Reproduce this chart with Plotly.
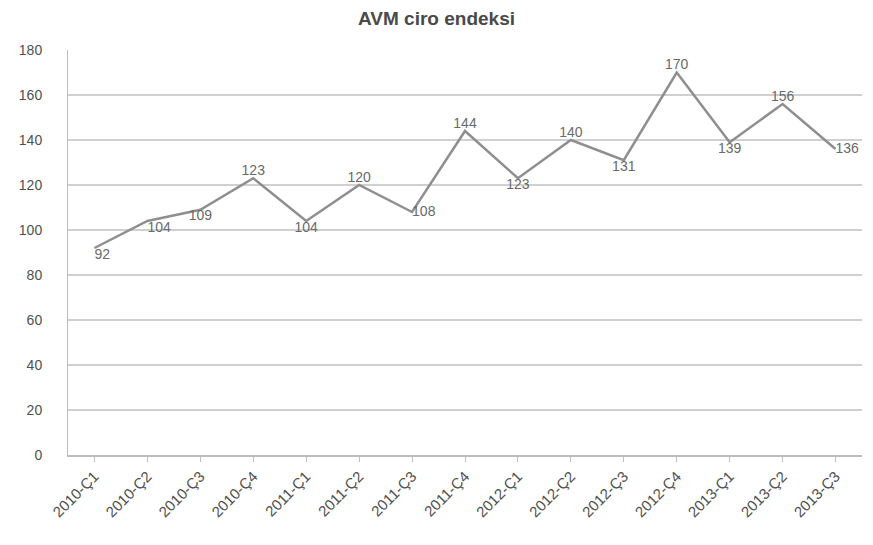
import plotly.graph_objects as go

categories = ["2010-Ç1", "2010-Ç2", "2010-Ç3", "2010-Ç4", "2011-Ç1", "2011-Ç2", "2011-Ç3", "2011-Ç4",
              "2012-Ç1", "2012-Ç2", "2012-Ç3", "2012-Ç4", "2013-Ç1", "2013-Ç2", "2013-Ç3"]
values = [92, 104, 109, 123, 104, 120, 108, 144, 123, 140, 131, 170, 139, 156, 136]
label_pos = ["bottom right", "bottom right", "bottom center", "top center", "bottom center", "top center",
             "middle right", "top center", "bottom center", "top center", "bottom center", "top center",
             "bottom center", "top center", "middle right"]
y_ticks = [0, 20, 40, 60, 80, 100, 120, 140, 160, 180]

fig = go.Figure()
fig.add_trace(go.Scatter(
    x=categories, y=values, mode="lines+text",
    line=dict(color="#8f8f8f", width=2.5),
    text=[str(v) for v in values], textposition=label_pos,
    textfont=dict(family="Liberation Sans, Arial, sans-serif", size=14, color="#6a6a6a"),
    cliponaxis=False, showlegend=False,
))

fig.update_layout(
    width=873, height=545,
    margin=dict(l=68, r=11, t=50, b=90),
    paper_bgcolor="white", plot_bgcolor="white",
    title=dict(text="<b>AVM ciro endeksi</b>", x=0.5, xanchor="center", y=0.967, yanchor="middle",
               font=dict(family="Liberation Sans, Arial, sans-serif", size=19, color="#4a4a4a")),
    font=dict(family="Liberation Sans, Arial, sans-serif", color="#555555"),
)
fig.update_yaxes(range=[0, 180], tickvals=y_ticks, showgrid=True, gridcolor="#d0d0d0", gridwidth=1.5,
                 showline=True, linecolor="#bdbdbd", zeroline=False,
                 tickfont=dict(size=14, color="#505050"), ticks="", ticklabelstandoff=22)
fig.update_xaxes(type="category", range=[-0.5, len(categories) - 0.5], tickangle=-45,
                 showline=True, linecolor="#bdbdbd", linewidth=1.5,
                 ticks="outside", ticklen=5, tickcolor="#bdbdbd",
                 showgrid=False, tickfont=dict(size=15, color="#505050"))

fig.write_html("out.html")
